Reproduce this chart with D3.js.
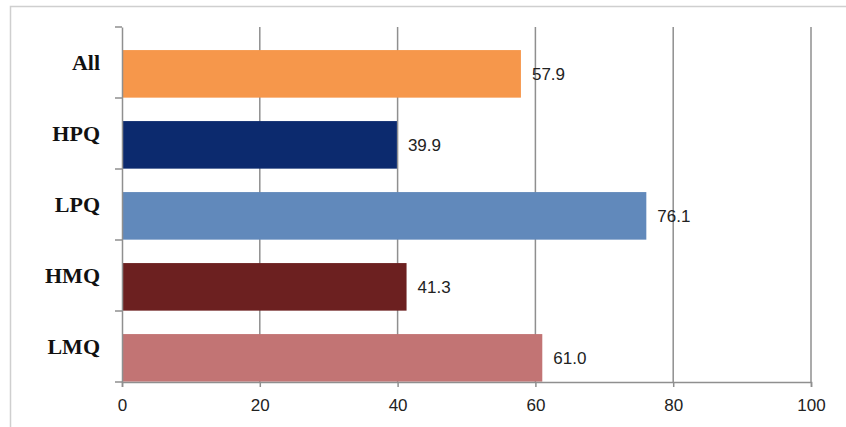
<!DOCTYPE html>
<html><head><meta charset="utf-8">
<script src="https://cdn.jsdelivr.net/npm/d3@7"></script>
<style>body{margin:0;background:#fff}svg{display:block}</style>
</head><body>
<script>
const categories = ["All","HPQ","LPQ","HMQ","LMQ"];
const values = [57.9, 39.9, 76.1, 41.3, 61.0];
const colors = ["#f6974b","#0c2a6e","#6189bb","#6c2020","#c27474"];
const xTicks = [0,20,40,60,80,100];

(function(){
const W=846,H=427;
const svg=d3.select("body").append("svg").attr("width",W).attr("height",H);
// outer frame
svg.append("rect").attr("x",10.5).attr("y",6.5).attr("width",W).attr("height",H)
  .attr("fill","none").attr("stroke","#cfcfcf").attr("stroke-width",1.5);

const pL=122,pR=811,pT=27,pB=382;
const x=d3.scaleLinear().domain([0,100]).range([pL,pR]);
const y=d3.scaleBand().domain(categories).range([pT,pB]).paddingInner(0).paddingOuter(0);

// gridlines
svg.append("g").selectAll("line").data(xTicks.slice(1)).join("line")
  .attr("x1",d=>x(d)).attr("x2",d=>x(d)).attr("y1",pT).attr("y2",pB)
  .attr("stroke","#8f8f8f").attr("stroke-width",1.5);

// bars
const bw=y.bandwidth();
svg.append("g").selectAll("rect").data(categories).join("rect")
  .attr("x",x(0)).attr("y",d=>y(d)+bw*0.325).attr("height",bw*0.67)
  .attr("width",(d,i)=>x(values[i])-x(0)).attr("fill",(d,i)=>colors[i]);

// value labels
svg.append("g").selectAll("text").data(categories).join("text")
  .attr("x",(d,i)=>x(values[i])+11).attr("y",d=>y(d)+bw*0.66)
  .attr("dy","0.36em").attr("font-family","Liberation Sans, Arial, sans-serif")
  .attr("font-size",17).attr("fill","#222").text((d,i)=>values[i].toFixed(1));

// y axis
const ya=svg.append("g").attr("transform",`translate(${pL},0)`)
  .call(d3.axisLeft(y).tickSize(0).tickPadding(22));
ya.select(".domain").attr("stroke","#8f8f8f").attr("stroke-width",1.5);
ya.selectAll("text").attr("font-family","Liberation Serif, Times New Roman, serif")
  .attr("font-weight","bold").attr("font-size",22).attr("fill","#111");
// boundary ticks on y axis
svg.append("g").selectAll("line").data(d3.range(categories.length+1)).join("line")
  .attr("x1",pL-7).attr("x2",pL).attr("y1",i=>pT+i*bw).attr("y2",i=>pT+i*bw)
  .attr("stroke","#8f8f8f").attr("stroke-width",1.5);

// x axis
const xa=svg.append("g").attr("transform",`translate(0,${pB})`)
  .call(d3.axisBottom(x).tickValues(xTicks).tickSize(5).tickPadding(12));
xa.select(".domain").attr("stroke","#8f8f8f").attr("stroke-width",1.5);
xa.selectAll(".tick line").attr("stroke","#8f8f8f").attr("stroke-width",1.5);
xa.selectAll("text").attr("font-family","Liberation Sans, Arial, sans-serif")
  .attr("font-size",17).attr("fill","#222");
})();
</script>
</body></html>
